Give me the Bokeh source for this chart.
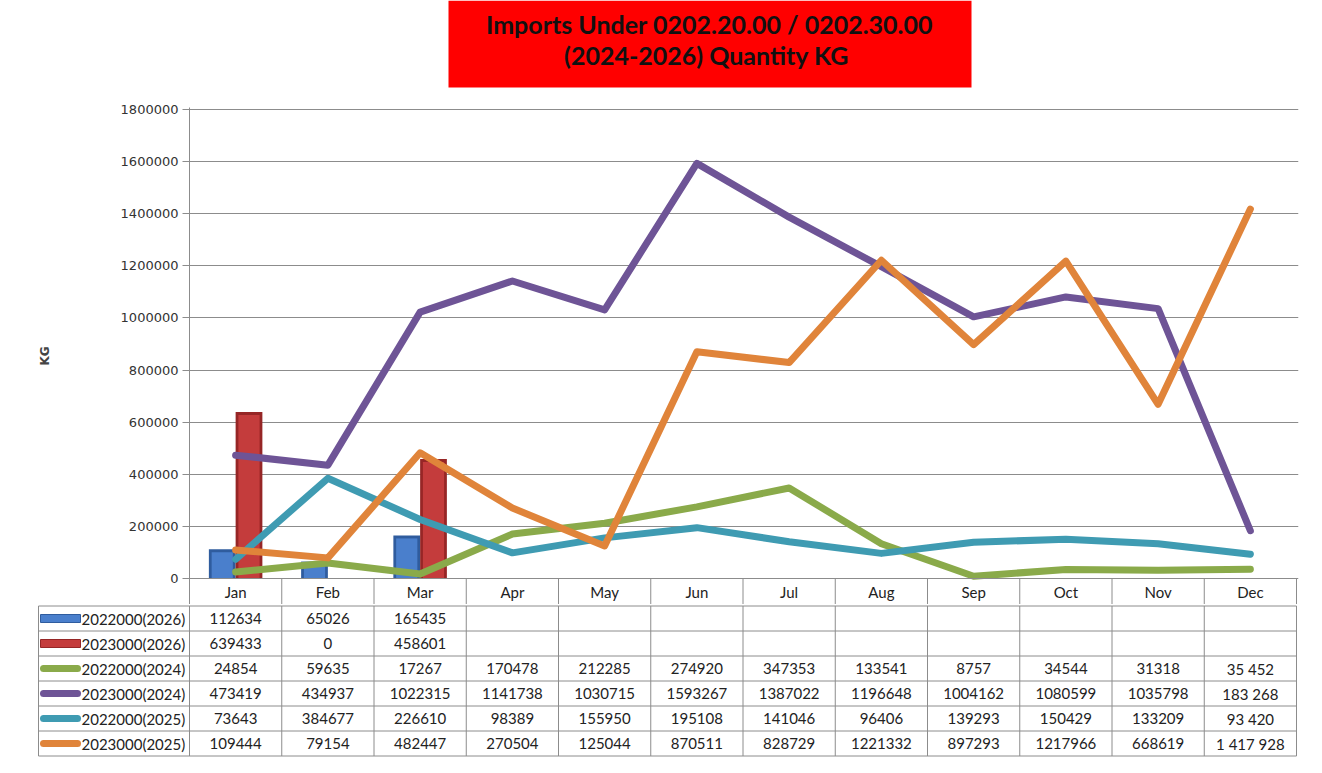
from bokeh.plotting import figure
from bokeh.layouts import column
from bokeh.models import Range1d, FixedTicker, BasicTickFormatter
from bokeh.core.properties import value
from bokeh.embed import file_html
from bokeh.resources import INLINE

# ---------------- data ----------------
months = ["Jan", "Feb", "Mar", "Apr", "May", "Jun", "Jul", "Aug", "Sep", "Oct", "Nov", "Dec"]

bar_2022_2026 = [112634, 65026, 165435]
bar_2023_2026 = [639433, 0, 458601]

line_2022_2024 = [24854, 59635, 17267, 170478, 212285, 274920, 347353, 133541, 8757, 34544, 31318, 35452]
line_2023_2024 = [473419, 434937, 1022315, 1141738, 1030715, 1593267, 1387022, 1196648, 1004162, 1080599, 1035798, 183268]
line_2022_2025 = [73643, 384677, 226610, 98389, 155950, 195108, 141046, 96406, 139293, 150429, 133209, 93420]
line_2023_2025 = [109444, 79154, 482447, 270504, 125044, 870511, 828729, 1221332, 897293, 1217966, 668619, 1417928]

series_names = ["2022000(2026)", "2023000(2026)", "2022000(2024)", "2023000(2024)", "2022000(2025)", "2023000(2025)"]
y_ticks = [0, 200000, 400000, 600000, 800000, 1000000, 1200000, 1400000, 1600000, 1800000]

title_lines = ["Imports Under 0202.20.00 / 0202.30.00", "(2024-2026)  Quantity KG"]
y_label = "KG"

# ---------------- styles ----------------
C_BLUE, C_BLUE_D = "#4A7FCC", "#2F5C9E"
C_RED, C_RED_D = "#C43C3C", "#962626"
C_GREEN = "#8AAA4A"
C_PURPLE = "#6E5496"
C_TEAL = "#3F9BB2"
C_ORANGE = "#E0843A"
GRID = "#8C8C8C"
FONT = "Lato"

W = 1306
CAT = 1107 / 12.0          # px per month
LEFT = 189                 # chart frame left (page px)
TLEFT = 38                 # table left edge
LEG = (LEFT - TLEFT) / CAT # legend column width in month units
UPP = 1800000 / 469.0      # value units per pixel
HDR = 26 * UPP             # header row height in value units

# ---------------- title figure ----------------
pt = figure(width=W, height=99, x_range=Range1d(0, W), y_range=Range1d(99, 0),
            output_backend="svg", toolbar_location=None, min_border=0, frame_align=False)
pt.axis.visible = False
pt.grid.visible = False
pt.outline_line_color = None
pt.quad(left=[448], right=[971], top=[0], bottom=[87], fill_color="#FF0000", line_color=None)
pt.text(x=[709, 709], y=[23, 54], text=title_lines, text_align="center", text_baseline="middle",
        text_font=value(FONT), text_font_style="bold", text_font_size="25px", text_color="#111111")

# ---------------- chart figure ----------------
p = figure(width=W, height=505,
           x_range=Range1d(0, 12 + 2 / CAT), y_range=Range1d(-HDR, 1800000 + 2 * UPP),
           output_backend="svg", toolbar_location=None, frame_align=False,
           min_border_left=LEFT, min_border_right=8, min_border_top=8, min_border_bottom=0)
p.xaxis.visible = False
p.xgrid.visible = False
p.outline_line_color = None
p.yaxis.ticker = FixedTicker(ticks=y_ticks)
p.ygrid.ticker = FixedTicker(ticks=y_ticks)
p.yaxis.formatter = BasicTickFormatter(use_scientific=False)
p.ygrid.grid_line_color = GRID
p.yaxis.axis_line_color = GRID
p.yaxis.major_tick_line_color = GRID
p.yaxis.major_tick_out = 7
p.yaxis.major_tick_in = 0
p.yaxis.minor_tick_line_color = None
p.yaxis.major_label_standoff = 4
p.yaxis.major_label_text_font = "DejaVu Sans"
p.yaxis.major_label_text_font_size = "13px"
p.yaxis.major_label_text_color = "#333333"
p.yaxis.axis_label = y_label
p.yaxis.axis_label_text_font = "DejaVu Sans"
p.yaxis.axis_label_text_font_style = "bold"
p.yaxis.axis_label_text_font_size = "12px"
p.yaxis.axis_label_standoff = 66

centers = [i + 0.5 for i in range(12)]
bw = 0.29
ins = 0.03
# bars (3 months)
bx = centers[:len(bar_2022_2026)]
p.quad(left=[c - bw for c in bx], right=bx, bottom=0, top=bar_2022_2026,
       fill_color=C_BLUE_D, line_color=None)
p.quad(left=[c - bw + ins for c in bx], right=[c - ins for c in bx], bottom=0,
       top=[max(v - 3 * UPP, 0) for v in bar_2022_2026], fill_color=C_BLUE, line_color=None)
p.quad(left=bx, right=[c + bw for c in bx], bottom=0, top=bar_2023_2026,
       fill_color=C_RED_D, line_color=None)
p.quad(left=[c + ins for c in bx], right=[c + bw - ins for c in bx], bottom=0,
       top=[max(v - 3 * UPP, 0) for v in bar_2023_2026], fill_color=C_RED, line_color=None)

for vals, col in [(line_2022_2024, C_GREEN), (line_2023_2024, C_PURPLE),
                  (line_2022_2025, C_TEAL), (line_2023_2025, C_ORANGE)]:
    p.line(centers, vals, line_color=col, line_width=7, line_cap="round", line_join="round")

# header row of table (months) inside the chart frame
p.segment(x0=list(range(13)), x1=list(range(13)), y0=-HDR, y1=0, line_color=GRID, line_width=1)
p.segment(x0=[0, 0], x1=[12, 12], y0=[0, -HDR], y1=[0, -HDR], line_color=GRID, line_width=1)
p.text(x=centers, y=-HDR / 2, text=months, text_align="center", text_baseline="middle",
       text_font=value(FONT), text_font_size="15px", text_color="#222222")

# ---------------- table figure ----------------
TH = 757 - 604
rows = 6
rh = TH / (rows + 0.12)
pad = 0.06
tb = figure(width=W, height=TH,
            x_range=Range1d(-LEG - 1 / CAT, 12 + 2 / CAT), y_range=Range1d(-pad, rows + pad),
            output_backend="svg", toolbar_location=None, frame_align=False,
            min_border_left=TLEFT - 1, min_border_right=8, min_border_top=0, min_border_bottom=0)
tb.axis.visible = False
tb.grid.visible = False
tb.outline_line_color = None

xs_v = [-LEG] + list(range(13))
tb.segment(x0=xs_v, x1=xs_v, y0=0, y1=rows, line_color=GRID, line_width=1)
tb.segment(x0=[-LEG] * (rows + 1), x1=[12] * (rows + 1), y0=list(range(rows + 1)),
           y1=list(range(rows + 1)), line_color=GRID, line_width=1)

all_vals = [bar_2022_2026, bar_2023_2026, line_2022_2024, line_2023_2024, line_2022_2025, line_2023_2025]


def fmt(v, m):
    if m == "Dec":
        return f"{v:,}".replace(",", " ")
    return str(v)


tx, ty, tt = [], [], []
for r, vals in enumerate(all_vals):
    yc = rows - r - 0.5
    for i, v in enumerate(vals):
        tx.append(centers[i]); ty.append(yc); tt.append(fmt(v, months[i]))
tb.text(x=tx, y=ty, text=tt, text_align="center", text_baseline="middle",
        text_font=value(FONT), text_font_size="15px", text_color="#222222")

# legend column
sw0 = -LEG + 2 / CAT
sw1 = -LEG + 42 / CAT
lab_y = [rows - r - 0.5 for r in range(rows)]
tb.text(x=[-LEG + 43 / CAT] * rows, y=lab_y, text=series_names, text_align="left", text_baseline="middle",
        text_font=value(FONT), text_font_size="15px", text_color="#222222")
hb = 4 / rh
tb.quad(left=[sw0, sw0], right=[sw1, sw1], bottom=[lab_y[0] - hb, lab_y[1] - hb],
        top=[lab_y[0] + hb, lab_y[1] + hb], fill_color=[C_BLUE, C_RED],
        line_color=[C_BLUE_D, C_RED_D], line_width=1)
for k, col in zip(range(2, 6), [C_GREEN, C_PURPLE, C_TEAL, C_ORANGE]):
    tb.line([sw0 + 3 / CAT, sw1 - 3 / CAT], [lab_y[k], lab_y[k]], line_color=col, line_width=7,
            line_cap="round")

layout = column(pt, p, tb, spacing=0)
open("out.html", "w").write(file_html(layout, INLINE))
